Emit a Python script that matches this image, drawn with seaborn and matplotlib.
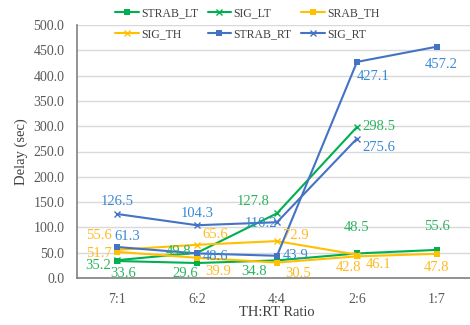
import numpy as np
import pandas as pd
import matplotlib
matplotlib.use("Agg")
import matplotlib.pyplot as plt
import seaborn as sns

categories = ["7:1", "6:2", "4:4", "2:6", "1:7"]
strab_lt = [33.6, 29.6, 34.8, 48.5, 55.6]
sig_lt = [35.2, 49.8, 127.8, 298.5, np.nan]
srab_th = [51.7, 39.9, 30.5, 42.8, 47.8]
sig_th = [55.6, 65.6, 72.9, 46.1, np.nan]
strab_rt = [61.3, 48.6, 43.9, 427.1, 457.2]
sig_rt = [126.5, 104.3, 110.2, 275.6, np.nan]
series_names = ["STRAB_LT", "SIG_LT", "SRAB_TH", "SIG_TH", "STRAB_RT", "SIG_RT"]
series_vals = [strab_lt, sig_lt, srab_th, sig_th, strab_rt, sig_rt]

GREEN = "#00B050"; GREEN_T = "#2BB35E"
YELLOW = "#FFC000"; YELLOW_T = "#FFBA1F"
BLUE = "#4472C4"; BLUE_T = "#3A8AD2"
line_colors = [GREEN, GREEN, YELLOW, YELLOW, BLUE, BLUE]
text_colors = [GREEN_T, GREEN_T, YELLOW_T, YELLOW_T, BLUE_T, BLUE_T]
markers = ["s", "x", "s", "x", "s", "x"]

# label offsets (points) and alignment per series per point
offsets = {
    "STRAB_LT": [(-5, -4, "left", "top"), (-18, -3, "left", "top"), (-7, -3, "right", "top"), (0, 19, "center", "center"), (0, 17, "center", "center")],
    "SIG_LT": [(-4, -4, "right", "center"), (-4, 1, "right", "center"), (-5, 4, "right", "bottom"), (4, 0, "left", "center"), None],
    "SRAB_TH": [(-4, -1, "right", "center"), (6, -5, "left", "top"), (6, -3, "left", "top"), (-6, -3, "center", "top"), (0, -5, "center", "top")],
    "SIG_TH": [(-4, 6, "right", "bottom"), (4, 3, "left", "bottom"), (4, 4, "left", "center"), (6, -7, "left", "center"), None],
    "STRAB_RT": [(-2, 3, "left", "bottom"), (4, -2, "left", "center"), (4, 5, "left", "top"), (0, -6, "left", "top"), (3, -8, "center", "top")],
    "SIG_RT": [(0, 4, "center", "bottom"), (0, 4, "center", "bottom"), (0, -1, "right", "center"), (4, -2, "left", "top"), None],
}

rows = []
for name, vals in zip(series_names, series_vals):
    for c, v in zip(categories, vals):
        rows.append({"ratio": c, "delay": v, "series": name})
df = pd.DataFrame(rows)

sns.set_style("white")
plt.rcParams["font.family"] = ["Liberation Serif", "DejaVu Serif"]

fig = plt.figure(figsize=(4.7, 3.25), dpi=100)
ax = fig.add_axes([77 / 470, 47 / 325, 400 / 470, 253 / 325])

for i, name in enumerate(series_names):
    sub = df[df["series"] == name].dropna()
    xs = [categories.index(c) for c in sub["ratio"]]
    sns.lineplot(x=xs, y=sub["delay"].values, ax=ax, color=line_colors[i],
                 marker=markers[i], markersize=5,
                 markeredgewidth=1.0 if markers[i] == "x" else 0,
                 markeredgecolor=line_colors[i],
                 linewidth=1.5, label=name, sort=False)
    for j, v in enumerate(series_vals[i]):
        off = offsets[name][j]
        if off is None or np.isnan(v):
            continue
        dx, dy, ha, va = off
        ax.annotate(f"{v:.1f}", (j, v), xytext=(dx, dy), textcoords="offset points",
                    ha=ha, va=va, fontsize=10.5, color=text_colors[i])

ax.set_xlim(-0.5, 4.5)
ax.set_ylim(0, 500)
ax.set_yticks(np.arange(0, 501, 50))
ax.set_yticklabels([f"{t:.1f}" for t in np.arange(0, 501, 50)])
ax.set_xticks(range(len(categories)))
ax.set_xticklabels(categories)
ax.tick_params(axis="both", length=0, labelsize=10, labelcolor="#595959")
ax.tick_params(axis="y", pad=9)
ax.tick_params(axis="x", pad=11)
ax.grid(axis="y", color="#D9D9D9", linewidth=1)
ax.set_axisbelow(True)
for s in ["top", "right"]:
    ax.spines[s].set_visible(False)
ax.spines["left"].set_color("#808080")
ax.spines["bottom"].set_color("#808080")
ax.spines["left"].set_linewidth(1.2)
ax.spines["bottom"].set_linewidth(1.2)
ax.set_xlabel("TH:RT Ratio", fontsize=10.5, color="#404040", labelpad=0)
ax.set_ylabel("Delay (sec)", fontsize=10.5, color="#404040", labelpad=4)

h, l = ax.get_legend_handles_labels()
if ax.get_legend():
    ax.get_legend().remove()
order = [0, 3, 1, 4, 2, 5]
fig.legend([h[k] for k in order], [l[k] for k in order], ncol=3, loc="upper left",
           bbox_to_anchor=(108 / 470, 1.0), borderpad=0.1,
           frameon=False, fontsize=8.5, handlelength=2.0, handletextpad=0.2,
           columnspacing=0.8, labelspacing=0.8, labelcolor="#404040")

fig.savefig("out.png", dpi=100)
